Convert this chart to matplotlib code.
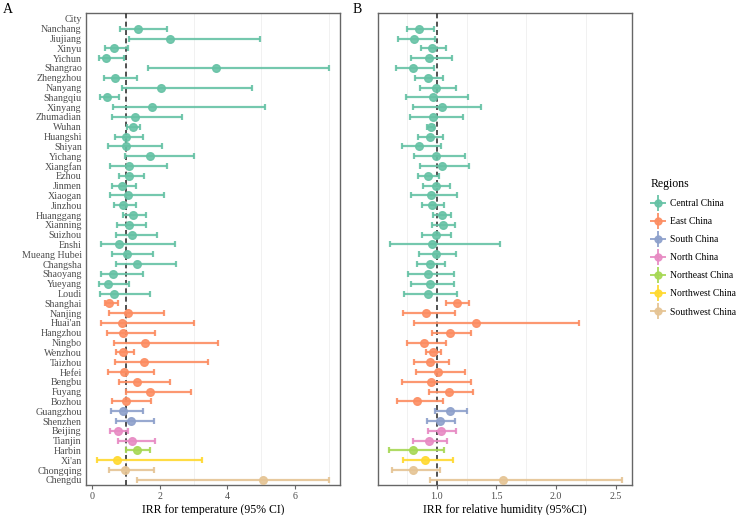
import numpy as np
import matplotlib
matplotlib.use("Agg")
import matplotlib.pyplot as plt
from matplotlib.lines import Line2D

plt.rcParams["font.family"] = ["Liberation Serif", "DejaVu Serif"]

cities = [
    "Nanchang", "Jiujiang", "Xinyu", "Yichun", "Shangrao", "Zhengzhou",
    "Nanyang", "Shangqiu", "Xinyang", "Zhumadian", "Wuhan", "Huangshi",
    "Shiyan", "Yichang", "Xiangfan", "Ezhou", "Jinmen", "Xiaogan",
    "Jinzhou", "Huanggang", "Xianning", "Suizhou", "Enshi", "Mueang Hubei",
    "Changsha", "Shaoyang", "Yueyang", "Loudi",
    "Shanghai", "Nanjing", "Huai'an", "Hangzhou", "Ningbo", "Wenzhou",
    "Taizhou", "Hefei", "Bengbu", "Fuyang", "Bozhou",
    "Guangzhou", "Shenzhen", "Beijing", "Tianjin", "Harbin", "Xi'an",
    "Chongqing", "Chengdu",
]
regions = (["Central China"] * 28 + ["East China"] * 11 + ["South China"] * 2
           + ["North China"] * 2 + ["Northeast China"] + ["Northwest China"]
           + ["Southwest China"] * 2)

region_order = ["Central China", "East China", "South China", "North China",
                "Northeast China", "Northwest China", "Southwest China"]
region_colors = ["#66C2A5", "#FC8D62", "#8DA0CB", "#E78AC3",
                 "#A6D854", "#FFD92F", "#E5C494"]

# IRR for temperature
temp_irr = [1.36, 2.32, 0.65, 0.43, 3.67, 0.69, 2.04, 0.44, 1.77, 1.27, 1.22, 1.01,
            1.01, 1.72, 1.09, 1.11, 0.88, 1.06, 0.92, 1.21, 1.09, 1.18, 0.81, 1.03,
            1.34, 0.63, 0.49, 0.66,
            0.52, 1.06, 0.90, 0.93, 1.56, 0.92, 1.53, 0.94, 1.33, 1.71, 1.02,
            0.91, 1.15, 0.77, 1.20, 1.32, 0.73, 0.97, 5.04]
temp_lo = [0.82, 1.09, 0.39, 0.20, 1.66, 0.36, 0.88, 0.24, 0.62, 0.60, 1.04, 0.68,
           0.48, 0.97, 0.54, 0.80, 0.60, 0.53, 0.65, 0.91, 0.75, 0.72, 0.27, 0.59,
           0.72, 0.27, 0.22, 0.24,
           0.38, 0.52, 0.27, 0.46, 0.66, 0.70, 0.69, 0.48, 0.79, 1.00, 0.59,
           0.56, 0.71, 0.55, 0.77, 1.00, 0.15, 0.52, 1.32]
temp_hi = [2.23, 4.96, 1.07, 0.95, 7.01, 1.33, 4.73, 0.81, 5.10, 2.65, 1.43, 1.51,
           2.08, 3.02, 2.21, 1.53, 1.29, 2.13, 1.30, 1.59, 1.59, 1.93, 2.45, 1.81,
           2.48, 1.51, 1.09, 1.72,
           0.76, 2.14, 3.01, 1.86, 3.72, 1.25, 3.43, 1.83, 2.30, 2.92, 1.75,
           1.50, 1.84, 1.07, 1.87, 1.71, 3.25, 1.83, 7.00]

# IRR for relative humidity
rh_irr = [0.854, 0.812, 0.961, 0.938, 0.801, 0.927, 0.994, 0.969, 1.047, 0.969,
          0.952, 0.941, 0.854, 0.997, 1.042, 0.925, 0.992, 0.952, 0.963, 1.042,
          1.055, 0.992, 0.963, 0.994, 0.941, 0.930, 0.947, 0.925,
          1.167, 0.910, 1.329, 1.109, 0.896, 0.966, 0.944, 1.011, 0.955, 1.103,
          0.838, 1.111, 1.028, 1.034, 0.933, 0.799, 0.905, 0.799, 1.553]
rh_lo = [0.749, 0.673, 0.866, 0.782, 0.659, 0.818, 0.860, 0.745, 0.802, 0.776,
         0.922, 0.841, 0.709, 0.810, 0.863, 0.841, 0.883, 0.782, 0.874, 0.972,
         0.963, 0.880, 0.609, 0.854, 0.833, 0.757, 0.782, 0.726,
         1.075, 0.720, 0.810, 0.958, 0.749, 0.908, 0.807, 0.827, 0.709, 0.933,
         0.665, 0.988, 0.916, 0.925, 0.802, 0.600, 0.715, 0.623, 0.944]
rh_hi = [0.980, 0.988, 1.078, 1.128, 0.980, 1.055, 1.162, 1.265, 1.374, 1.220,
         0.980, 1.053, 1.036, 1.240, 1.268, 1.019, 1.111, 1.173, 1.061, 1.117,
         1.156, 1.120, 1.530, 1.162, 1.072, 1.145, 1.147, 1.173,
         1.271, 1.151, 2.189, 1.290, 1.078, 1.036, 1.100, 1.235, 1.287, 1.307,
         1.053, 1.254, 1.153, 1.164, 1.086, 1.064, 1.139, 1.028, 2.550]

ylabels = ["City"] + cities
pos = np.arange(1, len(cities) + 1)
regions_arr = np.array(regions)

fig = plt.figure(figsize=(7.4, 5.15), dpi=100)
axA = fig.add_axes([86 / 740, 30 / 515, 254 / 740, 472 / 515])
axB = fig.add_axes([378 / 740, 30 / 515, 254 / 740, 472 / 515])


def forest(ax, irr, lo, hi, grid):
    irr = np.array(irr)
    lo = np.array(lo)
    hi = np.array(hi)
    for g in grid:
        ax.axvline(g, color="#EFEFEF", lw=0.6, zorder=0)
    ax.axvline(1, color="#333333", lw=1.2, ls=(0, (3, 2)), zorder=3)
    for reg, col in zip(region_order, region_colors):
        m = regions_arr == reg
        ax.errorbar(irr[m], pos[m], xerr=[irr[m] - lo[m], hi[m] - irr[m]],
                    fmt="o", color=col, ms=5.5, elinewidth=1.6, capsize=2.4,
                    capthick=1.6, alpha=0.9, zorder=4)
    ax.set_ylim(len(cities) + 0.52, -0.6)
    ax.set_yticks(np.arange(len(ylabels)))
    for s in ax.spines.values():
        s.set_color("#666666")
        s.set_linewidth(1.0)
    ax.tick_params(axis="x", colors="#666666", length=3, width=0.8,
                   labelsize=7.2, labelcolor="#4D4D4D", pad=2)
    ax.tick_params(axis="y", length=0, labelsize=7.2, labelcolor="#4D4D4D", pad=3)


forest(axA, temp_irr, temp_lo, temp_hi, [1, 3, 5, 7])
axA.set_xlim(-0.17, 7.32)
axA.set_xticks([0, 2, 4, 6])
axA.set_yticklabels(ylabels)
axA.set_xlabel("IRR for temperature (95% CI)", fontsize=8.5, labelpad=2)

forest(axB, rh_irr, rh_lo, rh_hi, [0.75, 1.25, 1.75, 2.25])
axB.set_xlim(0.508, 2.636)
axB.set_xticks([1.0, 1.5, 2.0, 2.5])
axB.set_xticklabels(["1.0", "1.5", "2.0", "2.5"])
axB.set_yticklabels([])
axB.set_xlabel("IRR for relative humidity (95%CI)", fontsize=8.5, labelpad=2)

fig.text(3 / 740, 1 - 3 / 515, "A", fontsize=10, va="top", ha="left")
fig.text(353 / 740, 1 - 3 / 515, "B", fontsize=10, va="top", ha="left")

handles = []
for col in region_colors:
    cross = Line2D([], [], color=col, marker="+", ms=11, mew=1.4, ls="", alpha=0.9)
    dot = Line2D([], [], color=col, marker="o", ms=5, ls="", alpha=0.9)
    handles.append((cross, dot))
fig.legend(handles, region_order, title="Regions", loc="upper left",
           bbox_to_anchor=(647 / 740, 1 - 174 / 515), frameon=False,
           fontsize=6.9, title_fontsize=8.5, handlelength=1.4, handletextpad=0.55,
           labelspacing=0.95, borderaxespad=0, alignment="left")

fig.savefig("out.png", dpi=100)
